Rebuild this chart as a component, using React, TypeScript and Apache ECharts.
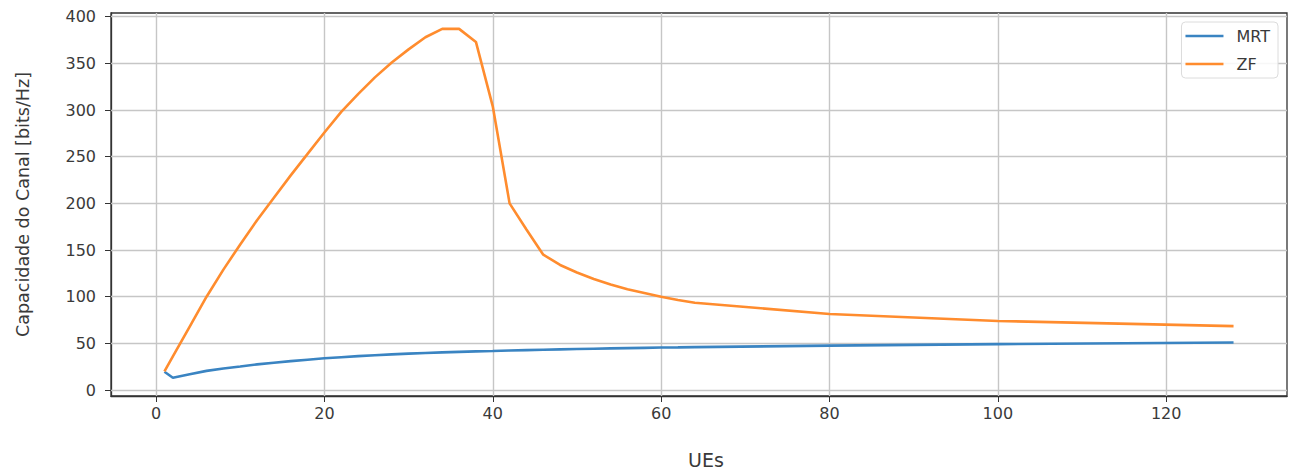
import React, { useEffect, useRef } from "react";
import * as echarts from "echarts";

const xValues = [1, 2, 4, 6, 8, 10, 12, 14, 16, 18, 20, 22, 24, 26, 28, 30, 32, 34, 36, 38, 40, 42, 44, 46, 48, 50, 52, 54, 56, 58, 60, 62, 64, 80, 100, 128];
const mrtValues = [19.6, 13.2, 17, 20.5, 23, 25.2, 27.5, 29.3, 31, 32.5, 34, 35.2, 36.3, 37.3, 38.2, 39, 39.7, 40.3, 40.9, 41.4, 41.8, 42.3, 42.8, 43.2, 43.6, 44, 44.3, 44.6, 44.9, 45.2, 45.5, 45.7, 46, 47.6, 49.2, 51];
const zfValues = [20, 36, 68, 100, 129, 156, 182, 206, 230, 253, 276, 298, 317, 335, 351, 365, 378, 387, 387, 373, 304, 200, 172, 145, 134, 126, 119, 113, 108, 104, 100, 96.5, 93.5, 81.5, 74, 68.5];
const xTicks = [0, 20, 40, 60, 80, 100, 120];
const yTicks = [0, 50, 100, 150, 200, 250, 300, 350, 400];
const seriesNames = ["MRT", "ZF"];

const FONT = "DejaVu Sans";
const TEXT = "#3a3a3a";

export default function App() {
  const ref = useRef<HTMLDivElement>(null);
  useEffect(() => {
    if (!ref.current) return;
    const chart = echarts.init(ref.current, undefined, { renderer: "svg" });
    const pair = (vals: number[]) => xValues.map((x, i) => [x, vals[i]]);
    chart.setOption({
      animation: false,
      backgroundColor: "#ffffff",
      grid: {
        left: 111,
        right: 9,
        top: 13,
        bottom: 78,
        show: true,
        borderColor: "#333",
        borderWidth: 1.3,
        containLabel: false,
      },
      legend: {
        data: seriesNames,
        orient: "vertical",
        right: 18,
        top: 22,
        icon: "rect",
        itemWidth: 38,
        itemHeight: 2.5,
        itemGap: 12,
        padding: [6, 8, 6, 4],
        backgroundColor: "rgba(255,255,255,0.85)",
        borderColor: "#dcdcdc",
        borderWidth: 1,
        borderRadius: 4,
        textStyle: { fontFamily: FONT, fontSize: 16, color: TEXT, padding: [0, 0, 0, 8] },
      },
      xAxis: {
        type: "value",
        min: -5.35,
        max: 134.35,
        name: "UEs",
        nameLocation: "middle",
        nameGap: 54,
        nameTextStyle: { fontFamily: FONT, fontSize: 19, color: TEXT, padding: [0, 0, 0, 14] },
        axisLine: { show: true, onZero: false, lineStyle: { color: "#333", width: 1.3 } },
        axisTick: { show: true, inside: false, length: 6, customValues: xTicks, lineStyle: { color: "#333" } },
        axisLabel: { customValues: xTicks, margin: 9, fontFamily: FONT, fontSize: 16, color: TEXT },
        splitLine: { show: false },
      },
      yAxis: {
        type: "value",
        min: -6.4,
        max: 404,
        name: "Capacidade do Canal [bits/Hz]",
        nameLocation: "middle",
        nameGap: 79,
        nameTextStyle: { fontFamily: FONT, fontSize: 17.5, color: TEXT },
        axisLine: { show: true, onZero: false, lineStyle: { color: "#333", width: 1.3 } },
        axisTick: { show: true, inside: false, length: 6, customValues: yTicks, lineStyle: { color: "#333" } },
        axisLabel: { customValues: yTicks, margin: 15, fontFamily: FONT, fontSize: 16, color: TEXT },
        splitLine: { show: false },
      },
      series: [
        {
          name: "MRT",
          type: "line",
          data: pair(mrtValues),
          showSymbol: false,
          symbol: "none",
          color: "#3a84c2",
          lineStyle: { width: 2.6, color: "#3a84c2" },
          z: 3,
          markLine: {
            silent: true,
            symbol: "none",
            label: { show: false },
            lineStyle: { color: "#c6c6c6", width: 1.4, type: "solid" },
            data: [
              ...xTicks.map((v) => ({ xAxis: v })),
              ...yTicks.map((v) => ({ yAxis: v })),
            ],
            z: 1,
          },
        },
        {
          name: "ZF",
          type: "line",
          data: pair(zfValues),
          showSymbol: false,
          symbol: "none",
          color: "#ff8c2e",
          lineStyle: { width: 2.6, color: "#ff8c2e" },
          z: 4,
        },
      ],
    });
    return () => chart.dispose();
  }, []);
  return <div ref={ref} style={{ width: 1296, height: 474, position: "absolute", left: 0, top: 0 }} />;
}
